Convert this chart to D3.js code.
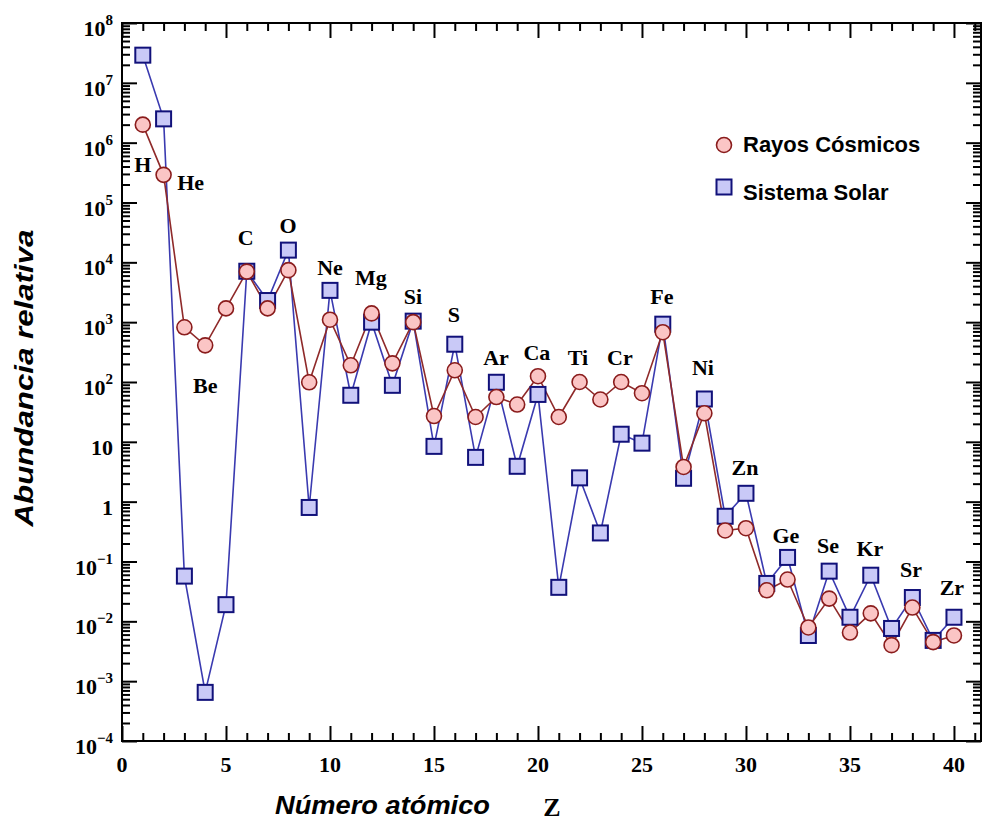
<!DOCTYPE html>
<html>
<head>
<meta charset="utf-8">
<script src="https://cdn.jsdelivr.net/npm/d3@7"></script>
<style>
  html, body { margin: 0; padding: 0; background: #fff; }
  svg { display: block; }
</style>
</head>
<body>
<svg id="chart" width="982" height="825"></svg>
<script>
// ---------- DATA ----------
const atomicNumbers = [1,2,3,4,5,6,7,8,9,10,11,12,13,14,15,16,17,18,19,20,
                       21,22,23,24,25,26,27,28,29,30,31,32,33,34,35,36,37,38,39,40];
const cosmicRays = [2.0e6, 2.9e5, 820, 410, 1700, 7000, 1700, 7400, 99, 1100,
                    190, 1400, 205, 1000, 27, 157, 26, 56, 42, 125,
                    26, 100, 51, 100, 65, 680, 3.8, 30, 0.33, 0.36,
                    0.033, 0.050, 0.0079, 0.024, 0.0065, 0.0136, 0.0040, 0.017, 0.0045, 0.0058];
const solarSystem = [2.9e7, 2.5e6, 0.057, 6.5e-4, 0.019, 7100, 2300, 16000, 0.80, 3400,
                     60, 1000, 88, 1040, 8.4, 428, 5.5, 99, 3.9, 62,
                     0.037, 2.5, 0.30, 13.4, 9.5, 926, 2.46, 52, 0.57, 1.38,
                     0.043, 0.117, 0.0058, 0.069, 0.0117, 0.059, 0.0076, 0.025, 0.0048, 0.0117];
const labelNames = ["H","He","Be","C","O","Ne","Mg","Si","S","Ar","Ca","Ti","Cr","Fe","Ni","Zn","Ge","Se","Kr","Sr","Zr"];
const labelZ     = [1.0, 3.3, 4.0, 5.95, 7.98, 10.0, 11.97, 13.99, 15.96, 17.98, 19.95, 21.92, 23.94, 25.96, 27.93, 29.95, 31.92, 33.94, 35.96, 37.93, 39.9];
const labelAbund = [3.2e5, 1.6e5, 65, 1.94e4, 3.08e4, 6100, 4160, 2000, 1000, 191, 232, 191, 191, 2000, 130, 2.76, 0.20, 0.137, 0.122, 0.0545, 0.0272];
const xMajorTicks = [0,5,10,15,20,25,30,35,40];
const yDecades = [-4,-3,-2,-1,0,1,2,3,4,5,6,7,8];
const seriesNames = ["Rayos Cósmicos", "Sistema Solar"];

// ---------- LAYOUT ----------
const svg = d3.select("#chart");
const L = 122, R = 981, T = 23, B = 741;
const x = d3.scaleLinear().domain([0, 41.3]).range([L, R]);
const y = d3.scaleLog().domain([1e-4, 1e8]).range([B, T]);

const serif = "'Liberation Serif','Times New Roman',serif";
const sans = "'Liberation Sans',Arial,Helvetica,sans-serif";

const majorLen = 15, minorLen = 8;
const xMinor = d3.range(0, 42).filter(v => v % 5 !== 0);
const yMajorVals = yDecades.map(e => Math.pow(10, e));
const yMinorVals = [];
yDecades.slice(0, -1).forEach(e => { for (let k = 2; k <= 9; k++) yMinorVals.push(k * Math.pow(10, e)); });

function styleAxis(g) {
  g.select(".domain").remove();
  g.selectAll("line").attr("stroke", "#000").attr("stroke-width", 2);
  g.selectAll("text").remove();
}
// bottom
svg.append("g").attr("transform", `translate(0,${B})`)
  .call(d3.axisBottom(x).tickValues(xMajorTicks).tickSize(-majorLen).tickFormat("")).call(styleAxis);
svg.append("g").attr("transform", `translate(0,${B})`)
  .call(d3.axisBottom(x).tickValues(xMinor).tickSize(-minorLen).tickFormat("")).call(styleAxis);
// top
svg.append("g").attr("transform", `translate(0,${T})`)
  .call(d3.axisTop(x).tickValues(xMajorTicks).tickSize(-majorLen).tickFormat("")).call(styleAxis);
svg.append("g").attr("transform", `translate(0,${T})`)
  .call(d3.axisTop(x).tickValues(xMinor).tickSize(-minorLen).tickFormat("")).call(styleAxis);
// left
svg.append("g").attr("transform", `translate(${L},0)`)
  .call(d3.axisLeft(y).tickValues(yMajorVals).tickSize(-majorLen).tickFormat("")).call(styleAxis);
svg.append("g").attr("transform", `translate(${L},0)`)
  .call(d3.axisLeft(y).tickValues(yMinorVals).tickSize(-minorLen).tickFormat("")).call(styleAxis);
// right
svg.append("g").attr("transform", `translate(${R},0)`)
  .call(d3.axisRight(y).tickValues(yMajorVals).tickSize(-majorLen).tickFormat("")).call(styleAxis);
svg.append("g").attr("transform", `translate(${R},0)`)
  .call(d3.axisRight(y).tickValues(yMinorVals).tickSize(-minorLen).tickFormat("")).call(styleAxis);

// frame
svg.append("rect").attr("x", L).attr("y", T).attr("width", R - L).attr("height", B - T)
  .attr("fill", "none").attr("stroke", "#000").attr("stroke-width", 2);

// x tick labels
svg.append("g").selectAll("text").data(xMajorTicks).join("text")
  .attr("x", d => x(d)).attr("y", 772)
  .attr("text-anchor", "middle")
  .attr("font-family", serif).attr("font-weight", "bold").attr("font-size", 22)
  .text(d => d);

// y tick labels
const yl = svg.append("g").selectAll("text").data(yDecades).join("text")
  .attr("x", 113).attr("y", d => y(Math.pow(10, d)) + 13)
  .attr("text-anchor", "end")
  .attr("font-family", serif).attr("font-weight", "bold").attr("font-size", 22);
yl.each(function(d) {
  const t = d3.select(this);
  if (d === 0) { t.text("1"); return; }
  if (d === 1) { t.text("10"); return; }
  t.append("tspan").text("10");
  t.append("tspan").attr("font-size", 15).attr("dy", -11).text(d < 0 ? "\u2212" + (-d) : d);
});

// axis titles
svg.append("text")
  .attr("transform", "translate(33,378) rotate(-90)")
  .attr("text-anchor", "middle")
  .attr("font-family", sans).attr("font-weight", "bold").attr("font-style", "italic")
  .attr("font-size", 26).attr("textLength", 297).attr("lengthAdjust", "spacingAndGlyphs")
  .text("Abundancia relativa");
svg.append("text")
  .attr("x", 275).attr("y", 814)
  .attr("font-family", sans).attr("font-weight", "bold").attr("font-style", "italic")
  .attr("font-size", 25).attr("textLength", 215).attr("lengthAdjust", "spacingAndGlyphs")
  .text("Número atómico");
svg.append("text")
  .attr("x", 552).attr("y", 816).attr("text-anchor", "middle")
  .attr("font-family", serif).attr("font-weight", "bold").attr("font-size", 26)
  .text("Z");

// ---------- SERIES ----------
const solarPts = atomicNumbers.map((z, i) => [z, solarSystem[i]]);
const cosmicPts = atomicNumbers.map((z, i) => [z, cosmicRays[i]]);
const line = d3.line().x(d => x(d[0])).y(d => y(d[1]));

const solarStroke = "#11117a", solarFill = "#c9c9f7", solarLine = "#3a3ab0";
const cosmicStroke = "#8a1c1c", cosmicFill = "#fbc5c5", cosmicLine = "#8f2a2a";
const sq = 15, rad = 7.5;

svg.append("path").datum(solarPts).attr("d", line)
  .attr("fill", "none").attr("stroke", solarLine).attr("stroke-width", 1.6);
svg.append("path").datum(cosmicPts).attr("d", line)
  .attr("fill", "none").attr("stroke", cosmicLine).attr("stroke-width", 1.6);

svg.append("g").selectAll("rect").data(solarPts).join("rect")
  .attr("x", d => x(d[0]) - sq / 2).attr("y", d => y(d[1]) - sq / 2)
  .attr("width", sq).attr("height", sq)
  .attr("fill", solarFill).attr("stroke", solarStroke).attr("stroke-width", 2);
svg.append("g").selectAll("circle").data(cosmicPts).join("circle")
  .attr("cx", d => x(d[0])).attr("cy", d => y(d[1])).attr("r", rad)
  .attr("fill", cosmicFill).attr("stroke", cosmicStroke).attr("stroke-width", 1.6);

// element labels
svg.append("g").selectAll("text").data(labelNames).join("text")
  .attr("x", (d, i) => x(labelZ[i])).attr("y", (d, i) => y(labelAbund[i]))
  .attr("text-anchor", "middle")
  .attr("font-family", serif).attr("font-weight", "bold").attr("font-size", 22)
  .text(d => d);

// ---------- LEGEND ----------
const lg = svg.append("g");
lg.append("circle").attr("cx", 724).attr("cy", 145).attr("r", rad)
  .attr("fill", cosmicFill).attr("stroke", cosmicStroke).attr("stroke-width", 1.6);
lg.append("rect").attr("x", 724 - sq / 2).attr("y", 187 - sq / 2).attr("width", sq).attr("height", sq)
  .attr("fill", solarFill).attr("stroke", solarStroke).attr("stroke-width", 2);
lg.selectAll("text").data(seriesNames).join("text")
  .attr("x", 743).attr("y", (d, i) => i === 0 ? 152 : 200)
  .attr("font-family", sans).attr("font-weight", "bold").attr("font-size", 22)
  .text(d => d);
</script>
</body>
</html>
